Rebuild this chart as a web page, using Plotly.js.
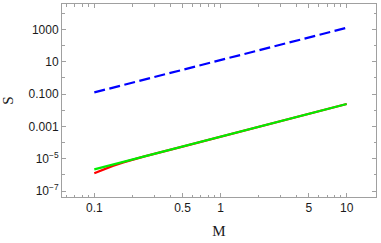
<!DOCTYPE html>
<html>
<head>
<meta charset="utf-8">
<script src="https://cdn.plot.ly/plotly-3.0.1.min.js"></script>
<style>html,body{margin:0;padding:0;background:#fff;}#chart{width:381px;height:243px;}</style>
</head>
<body>
<div id="chart"></div>
<script>
// Series data (log-log)
const massBlue = [0.1, 0.2, 0.5, 1, 2, 5, 10];
const entropyBlue = [0.126, 0.50, 3.14, 12.6, 50.3, 314, 1257];

const massRed = [0.1, 0.11, 0.12, 0.14, 0.17, 0.2, 0.25, 0.5, 1, 2, 5, 10];
const entropyRed = [1.26e-6, 1.75e-6, 2.29e-6, 3.59e-6, 5.89e-6, 8.67e-6, 1.39e-5, 5.6e-5, 2.3e-4, 9.3e-4, 5.9e-3, 0.024];

const massGreen = [0.1, 0.2, 0.5, 1, 2, 5, 10];
const entropyGreen = [2.2e-6, 8.9e-6, 5.6e-5, 2.3e-4, 9.3e-4, 5.9e-3, 0.024];

const xTickVals = [0.1, 0.5, 1, 5, 10];
const xTickText = ["0.1", "0.5", "1", "5", "10"];
const xMinorVals = [0.06, 0.07, 0.08, 0.09, 0.2, 0.3, 0.4, 0.6, 0.7, 0.8, 0.9, 2, 3, 4, 6, 7, 8, 9, 20];
const yTickVals = [1e-7, 1e-5, 1e-3, 0.1, 10, 1000];
const yTickText = ["10<sup>−7</sup>", "10<sup>−5</sup>", "0.001", "0.100", "10", "1000"];
const yMinorVals = [1e-6, 1e-4, 1e-2, 1, 100, 1e4];

const traces = [
  {x: massBlue, y: entropyBlue, mode: "lines", line: {color: "#0000ff", width: 2.2, dash: "11px,4.5px"}, hoverinfo: "skip"},
  {x: massRed, y: entropyRed, mode: "lines", line: {color: "#ff0000", width: 2.2}, hoverinfo: "skip"},
  {x: massGreen, y: entropyGreen, mode: "lines", line: {color: "#00ee00", width: 2.2}, hoverinfo: "skip"}
];

const axisCommon = {
  type: "log",
  showgrid: false,
  zeroline: false,
  showline: true,
  linecolor: "#a0a0a0",
  linewidth: 1,
  mirror: "ticks",
  ticks: "inside",
  ticklen: 4,
  tickwidth: 1,
  tickcolor: "#a0a0a0",
  tickmode: "array",
  tickfont: {family: "Liberation Sans, Arial, sans-serif", size: 12, color: "#1a1a1a"}
};

const layout = {
  width: 381,
  height: 243,
  margin: {l: 62, r: 5, t: 4, b: 46},
  paper_bgcolor: "#fff",
  plot_bgcolor: "#fff",
  showlegend: false,
  xaxis: Object.assign({}, axisCommon, {
    range: [-1.256, 1.232],
    tickvals: xTickVals,
    ticktext: xTickText,
    minor: {ticks: "inside", ticklen: 2.5, tickcolor: "#a0a0a0", tickmode: "array", tickvals: xMinorVals, showgrid: false},
    title: {text: "M", font: {family: "Liberation Serif, Times New Roman, serif", size: 15, color: "#1a1a1a"}, standoff: 11}
  }),
  yaxis: Object.assign({}, axisCommon, {
    range: [-7.37, 4.57],
    tickvals: yTickVals,
    ticktext: yTickText,
    minor: {ticks: "inside", ticklen: 2.5, tickcolor: "#a0a0a0", tickmode: "array", tickvals: yMinorVals, showgrid: false},
    title: {text: "S", font: {family: "Liberation Serif, Times New Roman, serif", size: 15, color: "#1a1a1a"}, standoff: 18}
  })
};

Plotly.newPlot("chart", traces, layout, {staticPlot: true, displayModeBar: false});
</script>
</body>
</html>
